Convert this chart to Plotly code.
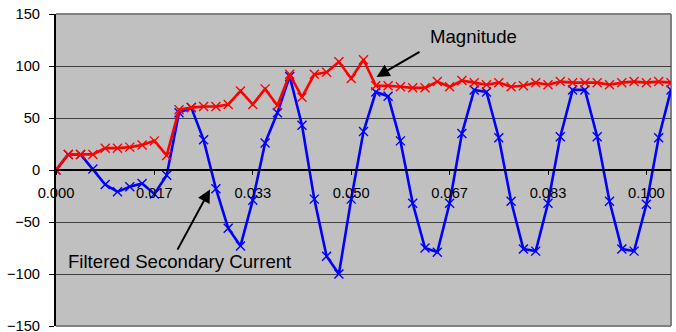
import plotly.graph_objects as go

# sample times (s): 51 samples at 480 samples/s
sample_step = 1 / 480
times = [i * sample_step for i in range(51)]

filtered_current = [0, 15, 15, 1, -14, -21, -16, -13, -23, -5,
                    55, 60, 29, -18, -56, -73, -29, 26, 55, 90,
                    43, -28, -83, -100, -28, 37, 75, 71, 28, -32,
                    -75, -79, -32, 35, 77, 75, 31, -30, -76, -78,
                    -32, 32, 77, 77, 32, -30, -76, -78, -33, 31, 77]

magnitude = [0, 15, 15, 15, 21, 21, 22, 24, 28, 14,
             58, 60, 61, 61, 63, 76, 63, 78, 62, 92,
             70, 92, 94, 104, 88, 106, 81, 81, 80, 79,
             79, 85, 80, 86, 84, 82, 84, 80, 81, 84,
             82, 85, 84, 84, 84, 82, 84, 85, 84, 85, 84]

x_tickvals = [0, 1/60, 2/60, 3/60, 4/60, 5/60, 6/60]
x_ticktext = ["0.000", "0.017", "0.033", "0.050", "0.067", "0.083", "0.100"]
y_tickvals = [-150, -100, -50, 0, 50, 100, 150]

FONT = "Liberation Sans, Arial, sans-serif"

fig = go.Figure()
fig.add_trace(go.Scatter(
    x=times, y=filtered_current, mode="lines+markers", name="Filtered Secondary Current",
    line=dict(color="#0000FF", width=2.6),
    marker=dict(symbol="x-thin-open", size=9, line=dict(color="#0000FF", width=1.4)),
))
fig.add_trace(go.Scatter(
    x=times, y=magnitude, mode="lines+markers", name="Magnitude",
    line=dict(color="#FF0000", width=2.6),
    marker=dict(symbol="x-thin-open", size=9, line=dict(color="#FF0000", width=1.4)),
))

fig.update_layout(
    width=676, height=332,
    margin=dict(l=56, r=5, t=14, b=6),
    paper_bgcolor="white", plot_bgcolor="#C0C0C0",
    showlegend=False,
    font=dict(family=FONT, size=14.7, color="black"),
    xaxis=dict(
        range=[0, times[-1]], tickvals=x_tickvals, ticktext=x_ticktext,
        showgrid=False, zeroline=False,
        showline=True, linecolor="black", linewidth=2,
        ticks="outside", ticklen=4, tickcolor="black", tickwidth=1,
        anchor="free", position=0.5, automargin=False,
        ticklabelstandoff=5,
        tickfont=dict(family=FONT, size=14.7, color="black"),
    ),
    yaxis=dict(
        range=[-150, 150], tickvals=y_tickvals,
        showgrid=True, gridcolor="#404040", gridwidth=1,
        zeroline=True, zerolinecolor="black", zerolinewidth=2,
        showline=True, linecolor="black", linewidth=2,
        ticks="outside", ticklen=5, tickcolor="black", tickwidth=1,
        ticklabelstandoff=6, ticklabeloverflow="allow", automargin=False,
        tickfont=dict(family=FONT, size=14.7, color="black"),
    ),
)

fig.add_shape(type="line", xref="paper", yref="paper", x0=0, x1=1, y0=1, y1=1,
              line=dict(color="#808080", width=2), layer="between")
fig.add_shape(type="line", xref="paper", yref="paper", x0=1, x1=1, y0=0, y1=1,
              line=dict(color="#808080", width=2), layer="between")
fig.add_shape(type="line", xref="paper", yref="paper", x0=0, x1=1, y0=0, y1=0,
              line=dict(color="#808080", width=2), layer="between")

# text labels
fig.add_annotation(x=0.07063, y=128.2, xref="x", yref="y", text="Magnitude",
                   showarrow=False, font=dict(family=FONT, size=18.6, color="black"))
fig.add_annotation(x=0.021003, y=-87.6, xref="x", yref="y", text="Filtered Secondary Current",
                   showarrow=False, font=dict(family=FONT, size=18.6, color="black"))
# arrows
fig.add_annotation(x=0.05429, y=89.5, xref="x", yref="y", text="", showarrow=True,
                   ax=44.5, ay=-25.8, arrowhead=2, arrowsize=1.3, arrowwidth=2, arrowcolor="black")
fig.add_annotation(x=0.026085, y=-18.7, xref="x", yref="y", text="", showarrow=True,
                   ax=-33.3, ay=61.7, arrowhead=2, arrowsize=1.3, arrowwidth=2, arrowcolor="black")

fig.write_html("out.html")
